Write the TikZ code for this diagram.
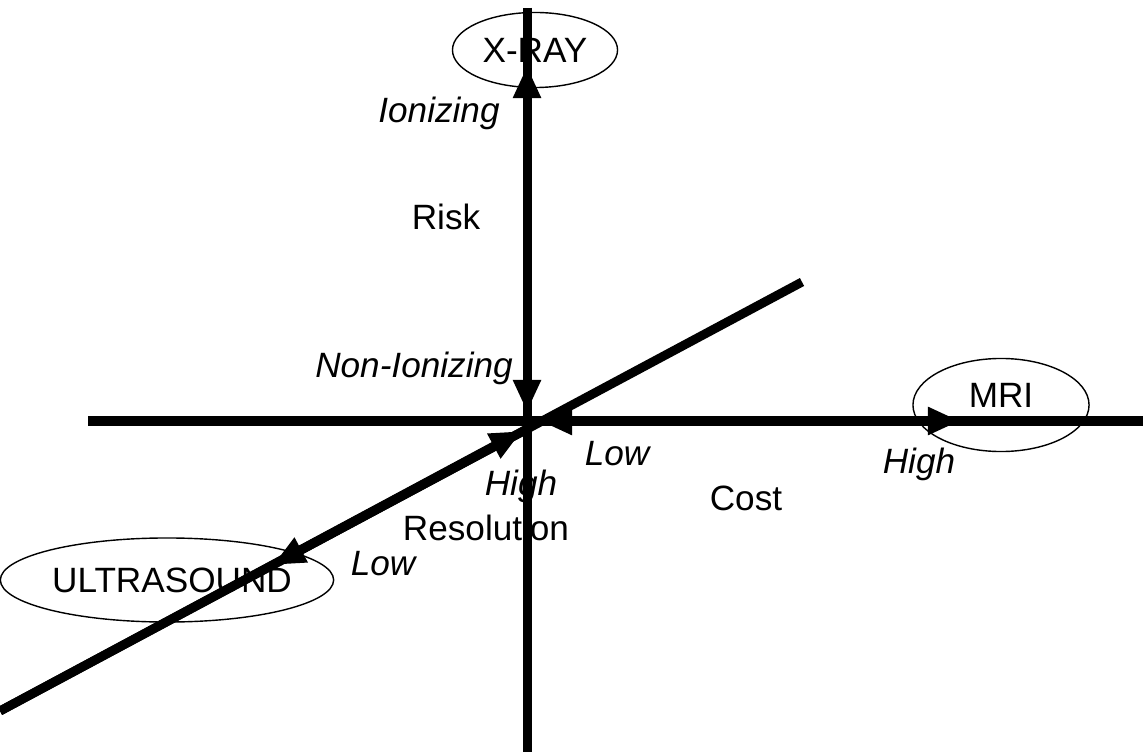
\documentclass[tikz,border=0pt]{standalone}
\usepackage{fontspec}
\setmainfont{Liberation Sans}
\usetikzlibrary{arrows.meta,shapes.geometric}

\begin{document}
\begin{tikzpicture}[x=0.01cm,y=-0.01cm,>={Triangle[length=0.32cm,width=0.26cm]},font=\fontsize{10}{12}\selectfont]
\useasboundingbox (0,0) rectangle (1143,752);
% the three modalities
\node[draw,ellipse,line width=0.4pt,inner sep=0pt,minimum width=1.65cm,minimum height=0.75cm] (xray) at (535,50) {X-RAY};
\node[draw,ellipse,line width=0.4pt,inner sep=0pt,minimum width=1.76cm,minimum height=0.93cm] (mri) at (1001,405) {\raisebox{0.2cm}{MRI}};
\node[draw,ellipse,line width=0.4pt,inner sep=0pt,inner xsep=-0.07cm,minimum width=3.21cm,minimum height=0.84cm] (us) at (167,580) {\hspace{0.1cm}ULTRASOUND};
% axes ends
\coordinate (top) at (527,8); \coordinate (bot) at (527,752);
\coordinate (left) at (88,421); \coordinate (right) at (1143,421);
\coordinate (ne) at (802,282); \coordinate (sw) at (0,711);
\coordinate (o) at (527,421); \coordinate (od) at (527,429);
% arrow tips
\coordinate (tipup) at (527,66); \coordinate (tipdown) at (527,412);
\coordinate (tipright) at (960,421); \coordinate (tipleft) at (540,421);
\coordinate (tipne) at (522,431); \coordinate (tipsw) at (273,565);
\draw[line width=0.09cm] (top)--(bot);\draw[line width=0.09cm] (left)--(right);\draw[line width=0.09cm] (ne)--(sw);
\draw[->,line width=0.09cm] (o)--(tipup);\draw[->,line width=0.09cm] (top)--(tipdown);
\draw[->,line width=0.09cm] (o)--(tipright);\draw[->,line width=0.09cm] (right)--(tipleft);
\draw[->,line width=0.09cm] (sw)--(tipne);\draw[->,line width=0.09cm] (od)--(tipsw);
% labels
\node[anchor=base,font=\fontsize{10}{12}\selectfont\itshape] (ion) at (439,123) {Ionizing};
\node[anchor=base] (risk) at (446,230) {Risk};
\node[anchor=base,font=\fontsize{10}{12}\selectfont\itshape] (nonion) at (414,377) {Non-Ionizing};
\node[anchor=base,font=\fontsize{10}{12}\selectfont\itshape] (lowc) at (617,465) {Low};
\node[anchor=base] (cost) at (746,510) {Cost};
\node[anchor=base,font=\fontsize{10}{12}\selectfont\itshape] (highc) at (919,473) {High};
\node[anchor=base,font=\fontsize{10}{12}\selectfont\itshape] (highr) at (521,495) {High};
\node[anchor=base] (res) at (486,540) {Resolution};
\node[anchor=base,font=\fontsize{10}{12}\selectfont\itshape] (lowr) at (383,575) {Low};
\end{tikzpicture}
\end{document}
